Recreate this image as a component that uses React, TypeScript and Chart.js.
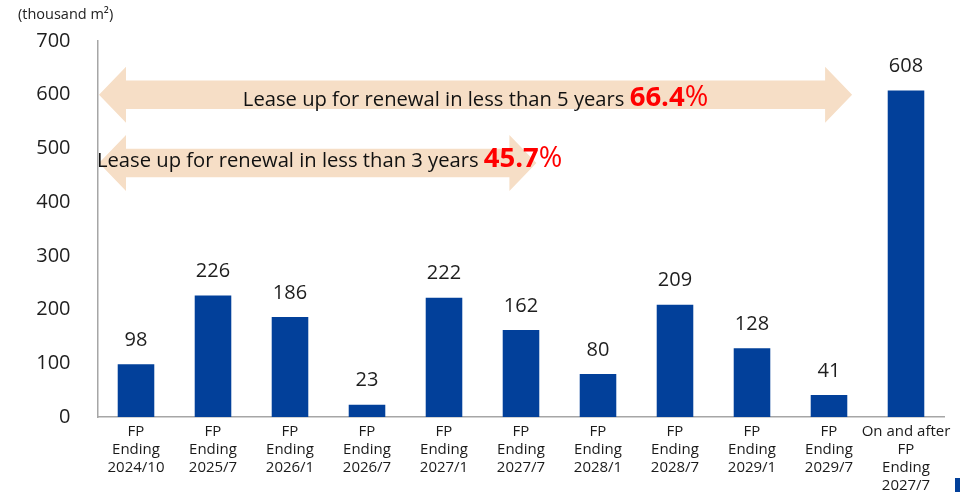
import React, { useEffect, useRef } from "react";
import { Chart, registerables } from "chart.js";

Chart.register(...registerables);

const categories: string[][] = [
  ["FP", "Ending", "2024/10"],
  ["FP", "Ending", "2025/7"],
  ["FP", "Ending", "2026/1"],
  ["FP", "Ending", "2026/7"],
  ["FP", "Ending", "2027/1"],
  ["FP", "Ending", "2027/7"],
  ["FP", "Ending", "2028/1"],
  ["FP", "Ending", "2028/7"],
  ["FP", "Ending", "2029/1"],
  ["FP", "Ending", "2029/7"],
  ["On and after", "FP", "Ending", "2027/7"],
];
const leaseValues = [98, 226, 186, 23, 222, 162, 80, 209, 128, 41, 608];
const yTicks = [0, 100, 200, 300, 400, 500, 600, 700];
const unitLabel = "(thousand m²)";

// arrow annotations: text, highlighted share, end category position, vertical level
const arrowTexts = ["Lease up for renewal in less than 5 years ", "Lease up for renewal in less than 3 years "];
const arrowShares = ["66.4", "45.7"];
const arrowEnds = [9.3, 5.2];
const arrowLevels = [600, 473];

const FONT = "'Open Sans', 'Noto Sans', sans-serif";
const BAR_COLOR = "#02409A";
const ARROW_COLOR = "#F6DEC6";

const overlayPlugin = {
  id: "overlay",
  beforeDatasetsDraw(chart: any) {
    const { ctx, chartArea, scales } = chart;
    const xs = scales.x;
    const ys = scales.y;
    ctx.save();
    ctx.fillStyle = ARROW_COLOR;
    for (let i = 0; i < arrowEnds.length; i++) {
      const left = chartArea.left + 1.5;
      const right = xs.getPixelForValue(arrowEnds[i]);
      const cy = ys.getPixelForValue(arrowLevels[i]);
      const head = 27;
      const hh = 28;
      const bh = 14.3;
      ctx.beginPath();
      ctx.moveTo(left, cy);
      ctx.lineTo(left + head, cy - hh);
      ctx.lineTo(left + head, cy - bh);
      ctx.lineTo(right - head, cy - bh);
      ctx.lineTo(right - head, cy - hh);
      ctx.lineTo(right, cy);
      ctx.lineTo(right - head, cy + hh);
      ctx.lineTo(right - head, cy + bh);
      ctx.lineTo(left + head, cy + bh);
      ctx.lineTo(left + head, cy + hh);
      ctx.closePath();
      ctx.fill();
    }
    ctx.restore();
  },
  afterDatasetsDraw(chart: any) {
    const { ctx, chartArea, scales } = chart;
    const xs = scales.x;
    const ys = scales.y;
    ctx.save();
    // value labels
    const meta = chart.getDatasetMeta(0);
    ctx.font = `20px ${FONT}`;
    ctx.fillStyle = "#1E1E1E";
    ctx.textAlign = "center";
    ctx.textBaseline = "middle";
    meta.data.forEach((bar: any, i: number) => {
      ctx.fillText(String(leaseValues[i]), bar.x, bar.y - 24);
    });

    // arrow texts
    const offsets = [11, 4.5];
    for (let i = 0; i < arrowTexts.length; i++) {
      const left = chartArea.left + 1.5;
      const right = xs.getPixelForValue(arrowEnds[i]);
      const cy = ys.getPixelForValue(arrowLevels[i]);
      ctx.textAlign = "left";
      ctx.textBaseline = "alphabetic";
      const f1 = `20.2px ${FONT}`;
      const f2 = `bold 27.5px ${FONT}`;
      const f3 = `28.5px ${FONT}`;
      ctx.font = f1;
      const w1 = ctx.measureText(arrowTexts[i]).width;
      ctx.font = f2;
      const w2 = ctx.measureText(arrowShares[i]).width;
      ctx.font = f3;
      const w3 = ctx.measureText("%").width;
      const total = w1 + w2 + w3;
      let x = i === 0 ? (left + right) / 2 - total / 2 : chartArea.left - 0.5;
      const base = cy + offsets[i];
      ctx.font = f1;
      ctx.fillStyle = "#111111";
      ctx.fillText(arrowTexts[i], x, base);
      x += w1;
      ctx.font = f2;
      ctx.fillStyle = "#FF0000";
      ctx.fillText(arrowShares[i], x, base);
      x += w2;
      ctx.font = f3;
      ctx.fillText("%", x, base);
    }

    // unit label
    ctx.font = `14.5px ${FONT}`;
    ctx.fillStyle = "#222222";
    ctx.textAlign = "left";
    ctx.textBaseline = "middle";
    ctx.fillText(unitLabel, 18, 15);

    // small slide decoration at bottom-right corner
    ctx.fillStyle = BAR_COLOR;
    ctx.fillRect(chart.width - 5, chart.height - 14, 5, 14);
    ctx.restore();
  },
};

export default function App() {
  const ref = useRef<HTMLCanvasElement>(null);
  useEffect(() => {
    if (!ref.current) return;
    const chart = new Chart(ref.current, {
      type: "bar",
      data: {
        labels: categories,
        datasets: [
          {
            data: leaseValues,
            backgroundColor: BAR_COLOR,
            barPercentage: 0.475,
            categoryPercentage: 1,
          },
        ],
      },
      options: {
        responsive: false,
        animation: false,
        layout: { padding: { top: 41, right: 15.5, left: 0, bottom: 0 } },
        plugins: {
          legend: { display: false },
          tooltip: { enabled: false },
        },
        scales: {
          x: {
            grid: { display: false, drawTicks: false },
            border: { display: true, color: "#A6A6A6", width: 1.5 },
            ticks: {
              autoSkip: false,
              maxRotation: 0,
              minRotation: 0,
              padding: 6,
              color: "#1A1A1A",
              font: { family: FONT, size: 15, lineHeight: 1.2 },
            },
            afterFit: (s: any) => {
              s.height = 75;
            },
          },
          y: {
            min: 0,
            max: 700,
            grid: { display: false, drawTicks: false },
            border: { display: true, color: "#A6A6A6", width: 1.5 },
            afterBuildTicks: (s: any) => {
              s.ticks = yTicks.map((v) => ({ value: v }));
            },
            ticks: {
              padding: 27,
              color: "#1E1E1E",
              font: { family: FONT, size: 20 },
            },
            afterFit: (s: any) => {
              s.width = 97.5;
            },
          },
        },
      },
      plugins: [overlayPlugin],
    });
    return () => chart.destroy();
  }, []);
  return (
    <div style={{ position: "fixed", left: 0, top: 0, width: 960, height: 492, background: "#fff" }}>
      <canvas ref={ref} width={960} height={492} />
    </div>
  );
}
